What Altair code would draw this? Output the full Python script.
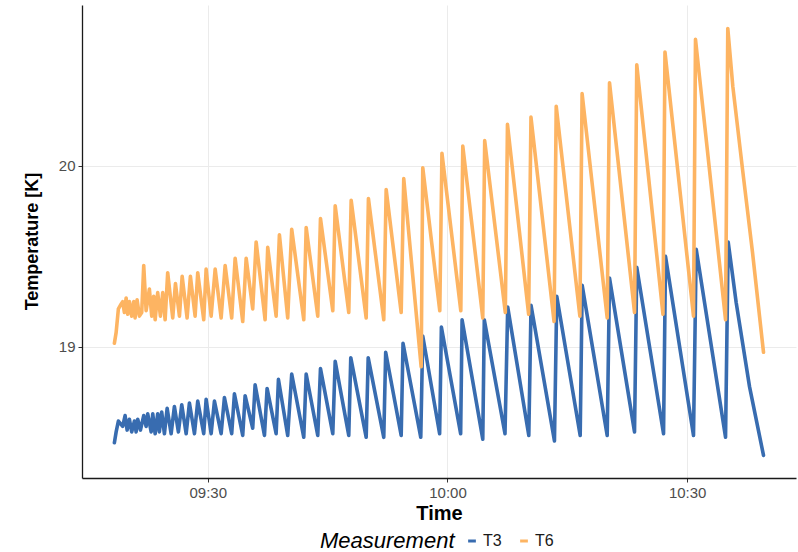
import altair as alt
import pandas as pd

# Minutes after 09:00 and temperatures [K]
t6_min = [18.32, 18.54, 18.82, 19.07, 19.36, 19.57, 19.79, 19.99, 20.20, 20.49,
          20.74, 20.91, 21.16, 21.45, 21.74, 21.99, 22.29, 22.70, 22.99, 23.24,
          23.42, 23.74, 24.08, 24.37, 24.67, 24.99, 25.62, 25.96, 26.46, 26.80,
          27.42, 27.83, 28.42, 28.75, 29.50, 29.80, 30.43, 30.93, 31.68, 32.18,
          33.00, 33.43, 34.38, 34.81, 35.63, 36.06, 37.18, 37.51, 38.56, 38.97,
          40.01, 40.51, 42.02, 42.32, 43.77, 44.11, 45.65, 45.95, 47.65, 47.95,
          49.83, 50.11, 52.03, 52.33, 54.21, 54.53, 56.71, 56.91, 59.04, 59.31,
          61.67, 61.92, 64.42, 64.66, 67.24, 67.51, 70.16, 70.45, 73.34, 73.61,
          76.57, 76.85, 79.99, 80.28, 83.41, 83.69, 86.97, 87.22, 90.79, 91.04,
          94.80, 95.08, 95.71, 96.93, 98.18, 99.55]
t6_val = [19.02, 19.08, 19.21, 19.23, 19.25, 19.19, 19.27, 19.18, 19.25, 19.17,
          19.25, 19.16, 19.26, 19.17, 19.19, 19.45, 19.20, 19.32, 19.17, 19.28,
          19.15, 19.30, 19.17, 19.30, 19.15, 19.41, 19.16, 19.35, 19.17, 19.39,
          19.16, 19.39, 19.17, 19.41, 19.15, 19.43, 19.17, 19.43, 19.16, 19.45,
          19.16, 19.49, 19.14, 19.49, 19.21, 19.58, 19.15, 19.55, 19.17, 19.62,
          19.16, 19.65, 19.15, 19.66, 19.17, 19.71, 19.20, 19.78, 19.19, 19.81,
          19.16, 19.82, 19.15, 19.87, 19.19, 19.93, 18.89, 19.99, 19.20, 20.07,
          19.20, 20.11, 19.16, 20.14, 19.19, 20.23, 19.18, 20.27, 19.14, 20.33,
          19.17, 20.40, 19.16, 20.46, 19.19, 20.56, 19.18, 20.63, 19.17, 20.70,
          19.15, 20.76, 20.44, 19.98, 19.52, 18.97]

t3_min = [18.32, 18.54, 18.82, 19.36, 19.66, 19.91, 20.20, 20.49, 20.83, 21.04,
          21.24, 21.58, 21.99, 22.29, 22.49, 22.92, 23.12, 23.42, 23.74, 23.95,
          24.24, 24.58, 24.92, 25.42, 25.83, 26.33, 26.75, 27.30, 27.71, 28.34,
          28.75, 29.50, 29.80, 30.43, 30.84, 31.68, 32.09, 33.00, 33.34, 34.38,
          34.68, 35.63, 35.93, 37.10, 37.43, 38.56, 38.85, 40.01, 40.51, 42.02,
          42.32, 43.77, 44.11, 45.65, 45.95, 47.65, 47.90, 49.83, 50.08, 52.03,
          52.27, 54.21, 54.44, 56.66, 56.91, 59.02, 59.24, 61.65, 61.83, 64.42,
          64.61, 67.20, 67.54, 70.18, 70.46, 73.39, 73.68, 76.61, 76.86, 79.99,
          80.28, 83.41, 83.69, 87.04, 87.29, 90.79, 91.13, 94.80, 95.13, 96.13,
          97.80, 99.55]
t3_val = [18.47, 18.53, 18.59, 18.56, 18.62, 18.54, 18.60, 18.53, 18.59, 18.53,
          18.60, 18.54, 18.62, 18.56, 18.63, 18.53, 18.63, 18.52, 18.63, 18.53,
          18.64, 18.52, 18.66, 18.52, 18.67, 18.53, 18.68, 18.52, 18.69, 18.52,
          18.70, 18.52, 18.71, 18.52, 18.70, 18.52, 18.72, 18.52, 18.74, 18.51,
          18.73, 18.55, 18.79, 18.51, 18.77, 18.52, 18.82, 18.51, 18.85, 18.50,
          18.85, 18.51, 18.88, 18.52, 18.92, 18.51, 18.94, 18.50, 18.94, 18.50,
          18.97, 18.51, 19.02, 18.50, 19.06, 18.52, 19.11, 18.52, 19.15, 18.49,
          19.15, 18.52, 19.22, 18.51, 19.23, 18.48, 19.28, 18.51, 19.34, 18.51,
          19.38, 18.53, 19.44, 18.52, 19.50, 18.51, 19.54, 18.50, 19.58, 19.245,
          18.78, 18.40]

measurements = ["T3", "T6"]
colors = ["#386CB0", "#FDB462"]
x_ticks = [(9, 30), (10, 0), (10, 30)]
y_ticks = [19, 20]

base = pd.Timestamp("2024-01-01 09:00:00")
df = pd.concat([
    pd.DataFrame({"Time": base + pd.to_timedelta(t3_min, unit="m"),
                  "Temperature": t3_val, "Measurement": "T3"}),
    pd.DataFrame({"Time": base + pd.to_timedelta(t6_min, unit="m"),
                  "Temperature": t6_val, "Measurement": "T6"}),
], ignore_index=True)


def dt(h, m, s=0):
    return alt.DateTime(year=2024, month=1, date=1, hours=h, minutes=m, seconds=s)


FONT = "Liberation Sans, Arial, sans-serif"

chart = alt.Chart(df).mark_line(strokeWidth=3.6, strokeJoin="round", strokeCap="round").encode(
    x=alt.X(
        "Time:T", title="Time",
        scale=alt.Scale(domain=[dt(9, 14, 16), dt(10, 43, 37)]),
        axis=alt.Axis(values=[dt(h, m) for h, m in x_ticks], format="%H:%M",
                      titleY=35, titleBaseline="middle"),
    ),
    y=alt.Y(
        "Temperature:Q", title="Temperature [K]",
        scale=alt.Scale(domain=[18.275, 20.89], nice=False, zero=False),
        axis=alt.Axis(values=y_ticks, titleX=-50, titleY=236, titleAngle=-90,
                      titleAlign="center", titleBaseline="middle",
                      titleFontSize=18),
    ),
    color=alt.Color(
        "Measurement:N",
        scale=alt.Scale(domain=measurements, range=colors),
        legend=alt.Legend(orient="none", legendX=238, legendY=528,
                          direction="horizontal", titleOrient="left",
                          title="Measurement", titleFontStyle="italic",
                          titleFontWeight="normal", titleFontSize=22,
                          titleFont=FONT, titleColor="#000000",
                          labelFont=FONT, labelFontSize=16, labelColor="#1A1A1A",
                          symbolType="stroke", symbolStrokeWidth=3,
                          symbolSize=60, columnPadding=12, titlePadding=9,
                          labelOffset=3),
    ),
).properties(
    width=714, height=473,
    autosize=alt.AutoSizeParams(type="none"),
    padding={"left": 82, "top": 5, "right": 2, "bottom": 74},
    background="white",
).configure_view(stroke=None).configure_axis(
    domainColor="#1A1A1A", domainWidth=1.3, tickColor="#333333", tickSize=4,
    labelColor="#4D4D4D", labelFontSize=15, labelFont=FONT, labelPadding=3,
    gridColor="#EBEBEB", gridWidth=1, titleFont=FONT, titleFontSize=20,
    titleFontWeight="bold", titleColor="#000000",
)

chart.save("out.html", embed_options={"renderer": "svg", "actions": False})
